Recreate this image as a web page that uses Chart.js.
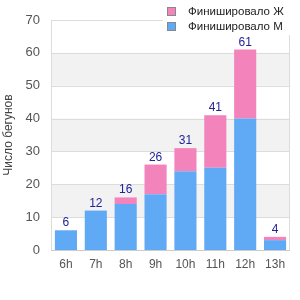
<!DOCTYPE html>
<html><head><meta charset="utf-8">
<script src="https://cdn.jsdelivr.net/npm/chart.js@4/dist/chart.umd.min.js"></script>
<style>html,body{margin:0;padding:0;background:#fff}#w{width:300px;height:300px}</style>
</head><body><div id="w"><canvas id="c"></canvas></div>
<script>
const categories = ['6h','7h','8h','9h','10h','11h','12h','13h'];
const finishedM = [6,12,14,17,24,25,40,3];
const finishedF = [0,0,2,9,7,16,21,1];
const totals = [6,12,16,26,31,41,61,4];
const yTicks = [0,10,20,30,40,50,60,70];
const labelM = 'Финишировало М';
const labelF = 'Финишировало Ж';
const colM = '#60a9f4';
const colF = '#f283bb';
const FONT = '"Liberation Sans", Arial, sans-serif';

const bands = {
  id:'bands',
  beforeDatasetsDraw(ch){
    const {ctx, chartArea:a, scales:{y}} = ch;
    ctx.save();
    ctx.fillStyle = '#f2f2f2';
    for (let i=1;i<yTicks.length-1;i+=2){
      const t = y.getPixelForValue(yTicks[i+1]), b = y.getPixelForValue(yTicks[i]);
      ctx.fillRect(a.left, t, a.right-a.left, b-t);
    }
    ctx.strokeStyle = '#dcdcdc'; ctx.lineWidth = 1;
    yTicks.forEach(v=>{ const p = Math.round(y.getPixelForValue(v))+0.5; ctx.beginPath(); ctx.moveTo(a.left,p); ctx.lineTo(a.right,p); ctx.stroke(); });
    ctx.beginPath(); ctx.moveTo(Math.round(a.right)-0.5,a.top); ctx.lineTo(Math.round(a.right)-0.5,a.bottom); ctx.stroke();
    ctx.beginPath(); ctx.moveTo(Math.round(a.left)+0.5,a.top); ctx.lineTo(Math.round(a.left)+0.5,a.bottom); ctx.stroke();
    ctx.strokeStyle = '#cccccc';
    ctx.beginPath(); ctx.moveTo(a.left,Math.round(a.bottom)+0.5); ctx.lineTo(a.right,Math.round(a.bottom)+0.5); ctx.stroke();
    ctx.restore();
  },
  afterDatasetsDraw(ch){
    const {ctx, scales:{x,y}} = ch;
    ctx.save();
    ctx.font = '12px ' + FONT;
    ctx.fillStyle = '#22229a'; ctx.textAlign='center'; ctx.textBaseline='alphabetic';
    totals.forEach((t,i)=>{ ctx.fillText(String(t), x.getPixelForValue(i), y.getPixelForValue(t)-4); });
    // legend
    ctx.fillStyle = '#fff'; ctx.fillRect(163,0,137,35);
    const items = [[labelF,colF],[labelM,colM]];
    ctx.font = '11.5px ' + FONT; ctx.textAlign='left'; ctx.textBaseline='middle';
    items.forEach((it,k)=>{
      const yy = 11 + k*15;
      ctx.fillStyle = it[1]; ctx.fillRect(167,yy-4,9,9);
      ctx.strokeStyle = '#888'; ctx.lineWidth=1; ctx.strokeRect(167.5,yy-3.5,8,8);
      ctx.fillStyle = '#222'; ctx.fillText(it[0], 188, yy+0.5);
    });
    ctx.restore();
  }
};

new Chart(document.getElementById('c'), {
  type:'bar',
  data:{ labels:categories, datasets:[
    {label:labelM, data:finishedM, backgroundColor:colM, barPercentage:0.74, categoryPercentage:1},
    {label:labelF, data:finishedF, backgroundColor:colF, barPercentage:0.74, categoryPercentage:1}
  ]},
  options:{
    responsive:true, maintainAspectRatio:false, animation:false,
    layout:{padding:{top:20,right:10,left:1,bottom:0}},
    plugins:{legend:{display:false}, tooltip:{enabled:false}},
    scales:{
      x:{stacked:true, grid:{display:false, drawTicks:false}, border:{display:false},
         ticks:{color:'#555', font:{size:12, family:FONT}, padding:7},
         afterFit(s){ s.height = 50; }},
      y:{stacked:true, min:0, max:70, grid:{display:false, drawTicks:false}, border:{display:false},
         afterBuildTicks(s){ s.ticks = yTicks.map(v=>({value:v})); },
         ticks:{color:'#555', font:{size:13, family:FONT}, padding:11},
         title:{display:true, text:'Число бегунов', color:'#444', font:{size:12, family:FONT}, padding:{top:0,bottom:0}},
         afterFit(s){ s.width = 50; }}
    }
  },
  plugins:[bands]
});
</script></body></html>
